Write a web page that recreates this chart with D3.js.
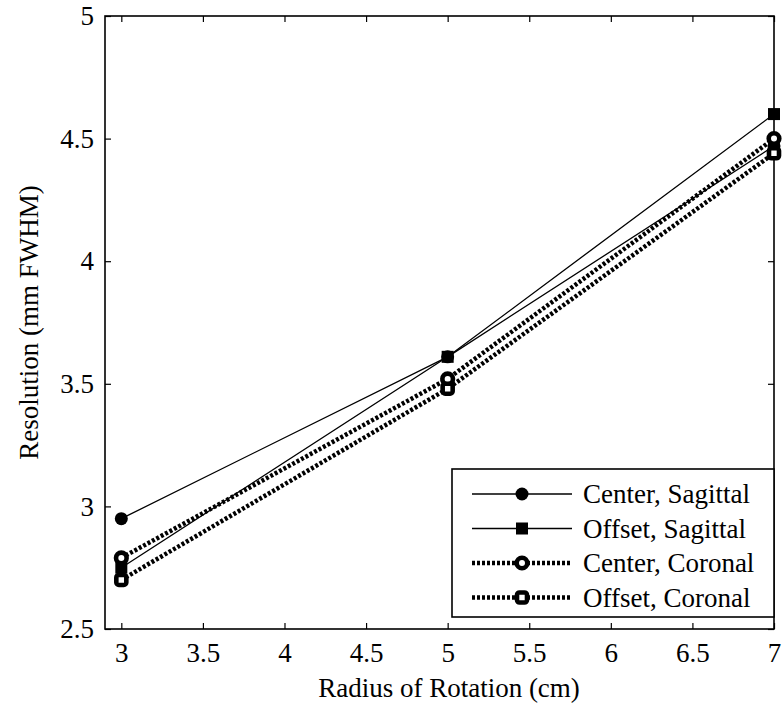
<!DOCTYPE html>
<html>
<head>
<meta charset="utf-8">
<script src="https://cdn.jsdelivr.net/npm/d3@7"></script>
</head>
<body style="margin:0">
<script>
// data
var radius = [3, 5, 7];
var centerSagittal = [2.95, 3.61, 4.47];
var offsetSagittal = [2.75, 3.61, 4.60];
var centerCoronal = [2.79, 3.52, 4.50];
var offsetCoronal = [2.70, 3.48, 4.44];
var xTicks = [3, 3.5, 4, 4.5, 5, 5.5, 6, 6.5, 7];
var yTicks = [2.5, 3, 3.5, 4, 4.5, 5];

var series = [
  {name: "Center, Sagittal", values: centerSagittal, marker: "circle", dotted: false},
  {name: "Offset, Sagittal", values: offsetSagittal, marker: "square", dotted: false},
  {name: "Center, Coronal", values: centerCoronal, marker: "circle", dotted: true},
  {name: "Offset, Coronal", values: offsetCoronal, marker: "square", dotted: true}
];

var FONT = "Liberation Serif, Times New Roman, serif";
var FSIZE = 27;
var W = 783, H = 713;
var margin = {top: 16, right: 9, bottom: 84, left: 105},
    width = W - margin.left - margin.right,
    height = H - margin.top - margin.bottom;

var x = d3.scaleLinear().domain([2.9, 7]).range([0, width]);
var y = d3.scaleLinear().domain([2.5, 5]).range([height, 0]);

var svg = d3.select("body").append("svg")
    .attr("width", W)
    .attr("height", H)
    .attr("font-family", FONT)
  .append("g")
    .attr("transform", "translate(" + margin.left + "," + margin.top + ")");

// ticks pointing inward on all four sides
var tickLen = 6;
function styleAxis(g) {
  g.attr("font-family", FONT).attr("font-size", FSIZE);
  g.select(".domain").remove();
  g.selectAll("line").attr("stroke", "#000").attr("stroke-width", 1.2);
  g.selectAll("text").attr("fill", "#000");
}

svg.append("g")
    .attr("transform", "translate(0," + height + ")")
    .call(d3.axisBottom(x).tickValues(xTicks).tickSizeInner(-tickLen).tickSizeOuter(0).tickPadding(14).tickFormat(d3.format("")))
    .call(styleAxis);

svg.append("g")
    .call(d3.axisTop(x).tickValues(xTicks).tickSizeInner(-tickLen).tickSizeOuter(0).tickFormat(""))
    .call(styleAxis);

svg.append("g")
    .call(d3.axisLeft(y).tickValues(yTicks).tickSizeInner(-tickLen).tickSizeOuter(0).tickPadding(11).tickFormat(d3.format("")))
    .call(styleAxis);

svg.append("g")
    .attr("transform", "translate(" + width + ",0)")
    .call(d3.axisRight(y).tickValues(yTicks).tickSizeInner(-tickLen).tickSizeOuter(0).tickFormat(""))
    .call(styleAxis);

svg.append("rect")
    .attr("width", width)
    .attr("height", height)
    .attr("fill", "none")
    .attr("stroke", "#000")
    .attr("stroke-width", 1.6);

// series lines + markers
var line = d3.line()
    .x(function(d) { return x(d[0]); })
    .y(function(d) { return y(d[1]); });

function drawMarker(g, s, cx, cy) {
  var filled = !s.dotted;
  if (s.marker === "circle") {
    g.append("circle")
        .attr("cx", cx).attr("cy", cy)
        .attr("r", filled ? 6.5 : 5.3)
        .attr("fill", filled ? "#000" : "#fff")
        .attr("stroke", "#000")
        .attr("stroke-width", filled ? 0 : 4.6);
  } else {
    var r = filled ? 6 : 5;
    g.append("rect")
        .attr("x", cx - r).attr("y", cy - r)
        .attr("width", 2 * r).attr("height", 2 * r)
        .attr("rx", filled ? 0 : 2.5)
        .attr("fill", filled ? "#000" : "#fff")
        .attr("stroke", "#000")
        .attr("stroke-width", filled ? 0 : 4.6);
  }
}

function styleLine(sel, s) {
  sel.attr("fill", "none")
     .attr("stroke", "#000")
     .attr("stroke-width", s.dotted ? 4.5 : 1.3);
  if (s.dotted) sel.attr("stroke-dasharray", "3,2");
}

series.forEach(function(s) {
  var pts = radius.map(function(r, i) { return [r, s.values[i]]; });
  var g = svg.append("g");
  g.append("path").datum(pts).attr("d", line).call(styleLine, s);
  pts.forEach(function(p) { drawMarker(g, s, x(p[0]), y(p[1])); });
});

// legend
var legend = svg.append("g")
    .attr("transform", "translate(" + (452 - margin.left) + "," + (469 - margin.top) + ")");

legend.append("rect")
    .attr("width", 322)
    .attr("height", 148)
    .attr("fill", "#fff")
    .attr("stroke", "#000")
    .attr("stroke-width", 1.6);

series.forEach(function(s, i) {
  var ly = 25 + i * 34.5;
  var row = legend.append("g");
  row.append("line")
      .attr("x1", 20).attr("x2", 120)
      .attr("y1", ly).attr("y2", ly)
      .call(styleLine, s);
  drawMarker(row, s, 70, ly);
  row.append("text")
      .attr("x", 131)
      .attr("y", ly + 9)
      .attr("font-size", FSIZE)
      .text(s.name);
});

// axis titles
svg.append("text")
    .attr("x", 449 - margin.left)
    .attr("y", H - margin.top - 16)
    .attr("text-anchor", "middle")
    .attr("font-size", FSIZE)
    .text("Radius of Rotation (cm)");

svg.append("text")
    .attr("transform", "translate(" + (38 - margin.left) + "," + (height / 2) + ") rotate(-90)")
    .attr("text-anchor", "middle")
    .attr("font-size", FSIZE)
    .text("Resolution (mm FWHM)");
</script>
</body>
</html>
